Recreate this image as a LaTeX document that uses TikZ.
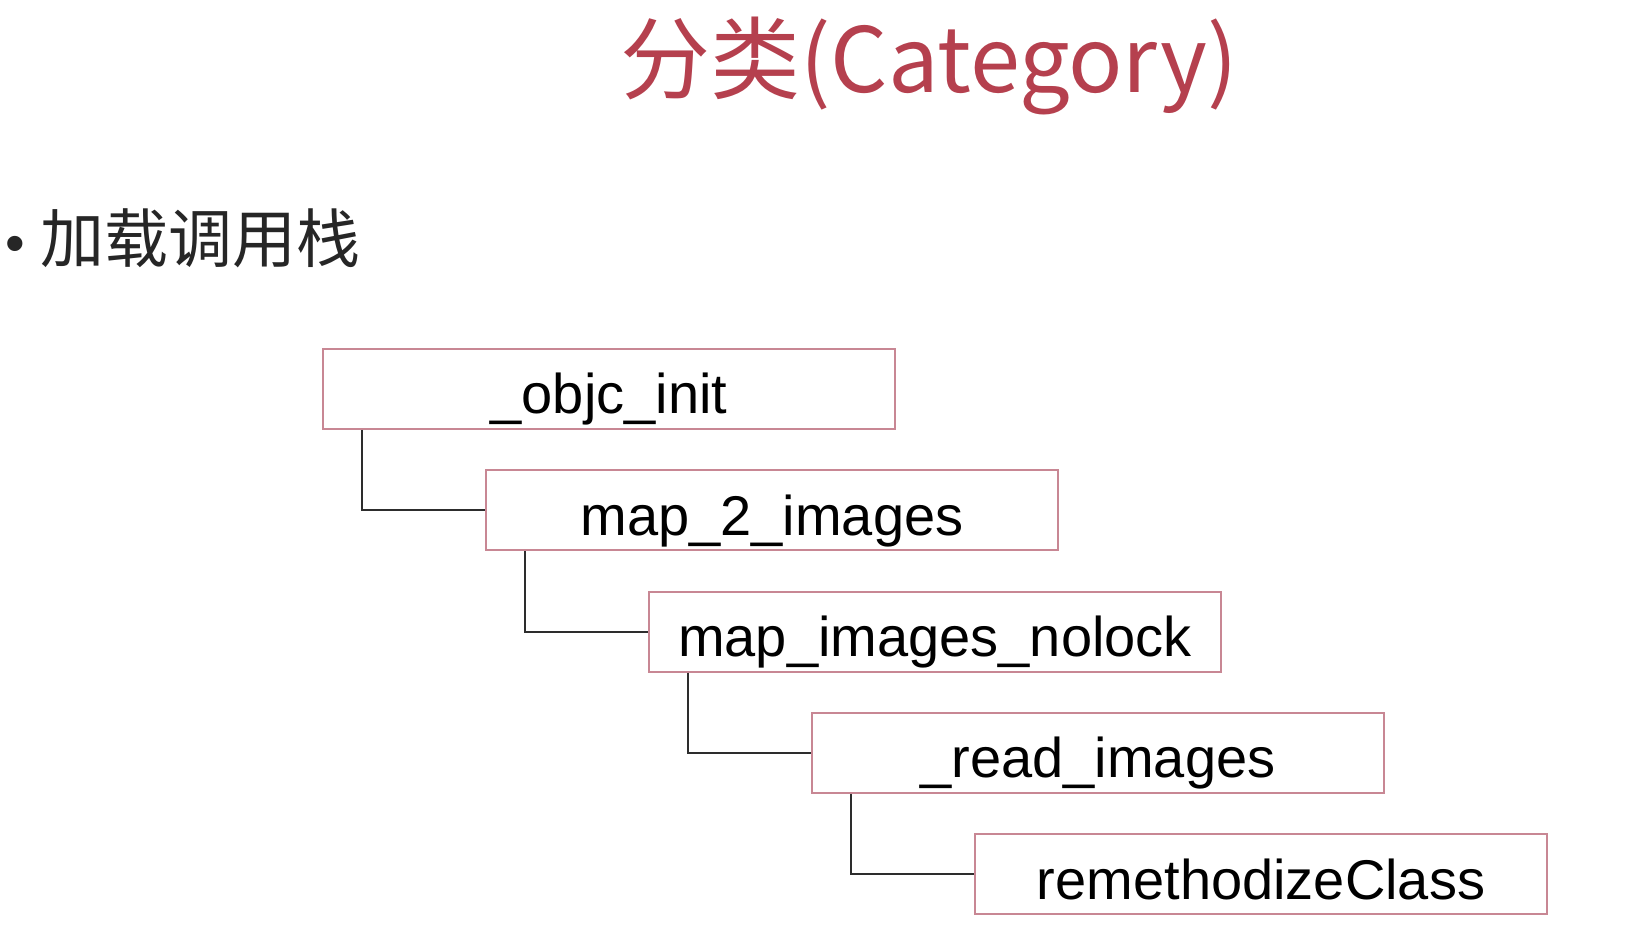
\documentclass[tikz,border=0pt]{standalone}
\usepackage{fontspec}
\setmainfont{Liberation Sans}
\newfontfamily\cjk{Noto Sans CJK SC}
\definecolor{titlered}{RGB}{181,64,78}
\definecolor{boxpink}{RGB}{200,135,148}
\definecolor{wire}{RGB}{45,45,45}
\begin{document}
\begin{tikzpicture}[
		x = 0.5pt, y = -0.5pt,
		frame/.style = {draw = boxpink, line width = 1pt, shape = rectangle, minimum width = 286pt, minimum height = 40pt, inner sep = 0pt, text height = 32.5pt, text depth = 7.5pt, font = \fontsize{28}{28}\selectfont},
		link/.style = {draw = wire, line width = 1pt}
	]
	\useasboundingbox (0,0) rectangle (1642,951);
	\node[anchor = base, text = titlered, font = \cjk\fontsize{45}{45}\selectfont] (title) at (929,93) {分类(Category)};
	\node[anchor = base west, inner sep = 0pt, text = black!85, font = \cjk\fontsize{32}{32}\selectfont] (stack) at (0,263) {\makebox[20pt][l]{\hspace{2.6pt}{\rmfamily\fontsize{28}{28}\selectfont •}}加载调用栈};
	\node[frame] (init) at (609,389) {\_objc\_init};
	\node[frame] (maptwo) at (772,510.25) {map\_2\_images};
	\node[frame] (nolock) at (935,631.5) {map\_images\_nolock};
	\node[frame] (readimg) at (1098,752.75) {\_read\_images};
	\node[frame] (remethod) at (1261,874) {remethodizeClass};
	\draw[link] ([xshift = 20pt]init.south west) |- (maptwo.west);
	\draw[link] ([xshift = 20pt]maptwo.south west) |- (nolock.west);
	\draw[link] ([xshift = 20pt]nolock.south west) |- (readimg.west);
	\draw[link] ([xshift = 20pt]readimg.south west) |- (remethod.west);
\end{tikzpicture}
\end{document}
